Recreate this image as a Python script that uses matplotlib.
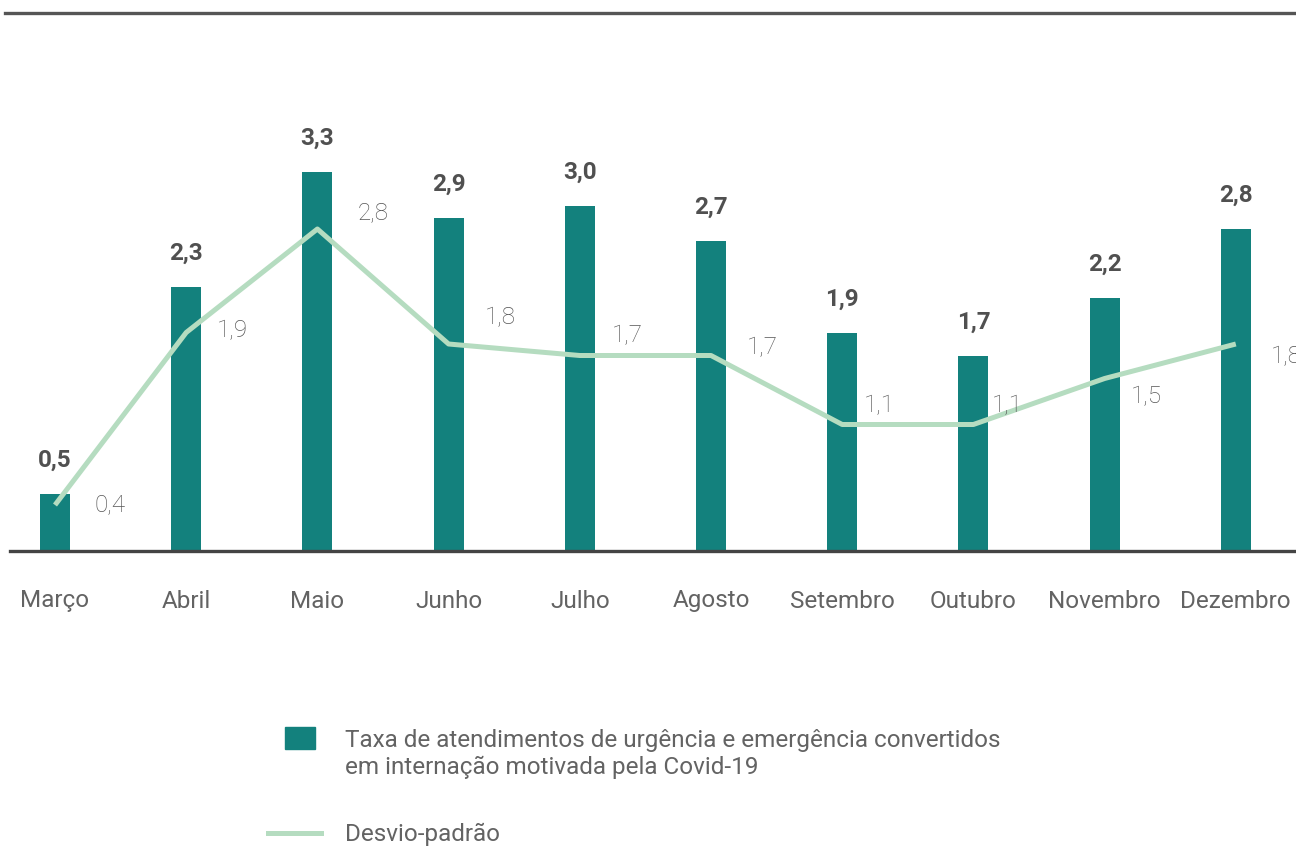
import numpy as np
import matplotlib
matplotlib.use("Agg")
import matplotlib.pyplot as plt
from matplotlib.patches import Rectangle
from matplotlib.lines import Line2D

plt.rcParams['font.family'] = ['Roboto', 'DejaVu Sans']

months = ["Março", "Abril", "Maio", "Junho", "Julho", "Agosto",
          "Setembro", "Outubro", "Novembro", "Dezembro"]
taxa = [0.5, 2.3, 3.3, 2.9, 3.0, 2.7, 1.9, 1.7, 2.2, 2.8]
desvio = [0.4, 1.9, 2.8, 1.8, 1.7, 1.7, 1.1, 1.1, 1.5, 1.8]

legend_bar = "Taxa de atendimentos de urgência e emergência convertidos\nem internação motivada pela Covid-19"
legend_line = "Desvio-padrão"

# hand-placed offsets (px) of the line labels from their points
line_label_offsets = [(55, 0), (46, 2), (56, 16), (52, 26), (48, 20),
                      (51, 8), (37, 19), (34, 19), (42, -18), (51, -13)]

BAR_COLOR = "#13817d"
LINE_COLOR = "#b5dcc0"
FS = 17.5

W, H = 1296, 848
fig = plt.figure(figsize=(W / 100, H / 100), dpi=100)

# axes: left edge at x=0, bottom at y=551 px, top at y=12 px
ax = fig.add_axes([0, (H - 551) / H, 1, (551 - 12) / H])
step = 131.2
x0 = 55
ax.set_xlim(-x0 / step, (W - x0) / step)
ppu = 115.0
ax.set_ylim(0, (551 - 12) / ppu)
ax.axis("off")

x = np.arange(len(months))
ax.bar(x, taxa, width=30 / step, color=BAR_COLOR, zorder=2)
ax.plot(x, desvio, color=LINE_COLOR, lw=3.6, zorder=3, solid_capstyle="butt")

for xi, v in zip(x, taxa):
    ax.annotate(f"{v:.1f}".replace(".", ","), (xi, v), xytext=(0, 22),
                textcoords="offset pixels", ha="center", va="bottom",
                fontsize=FS, fontweight="bold", color="#505050")

for xi, v, (dx, dy) in zip(x, desvio, line_label_offsets):
    ax.annotate(f"{v:.1f}".replace(".", ","), (xi, v), xytext=(dx, dy),
                textcoords="offset pixels", ha="center", va="center",
                fontsize=FS, fontweight="light", color="#555555",
                annotation_clip=False)

for xi, m in zip(x, months):
    ax.annotate(m, (xi, 0), xytext=(0, -50), textcoords="offset pixels",
                ha="center", va="center", fontsize=FS, color="#636363",
                annotation_clip=False)

# baseline and top rule
ax.axhline(0, xmin=10 / W, xmax=1, color="#444444", lw=2.4, zorder=4, clip_on=False)
fig.add_artist(Line2D([5 / W, 1], [1 - 12.5 / H] * 2, color="#555555", lw=2.4))

# legend drawn by hand
fig.add_artist(Rectangle((285 / W, 1 - 749 / H), 30 / W, 22 / H,
                         color=BAR_COLOR, transform=fig.transFigure))
fig.text(345 / W, 1 - 754 / H, legend_bar, ha="left", va="center",
         fontsize=FS, color="#636363", linespacing=1.2)
fig.add_artist(Line2D([268 / W, 321 / W], [1 - 833 / H] * 2,
                      color=LINE_COLOR, lw=3.6))
fig.text(345 / W, 1 - 834 / H, legend_line, ha="left", va="center",
         fontsize=FS, color="#636363")

fig.savefig("out.png", dpi=100)
